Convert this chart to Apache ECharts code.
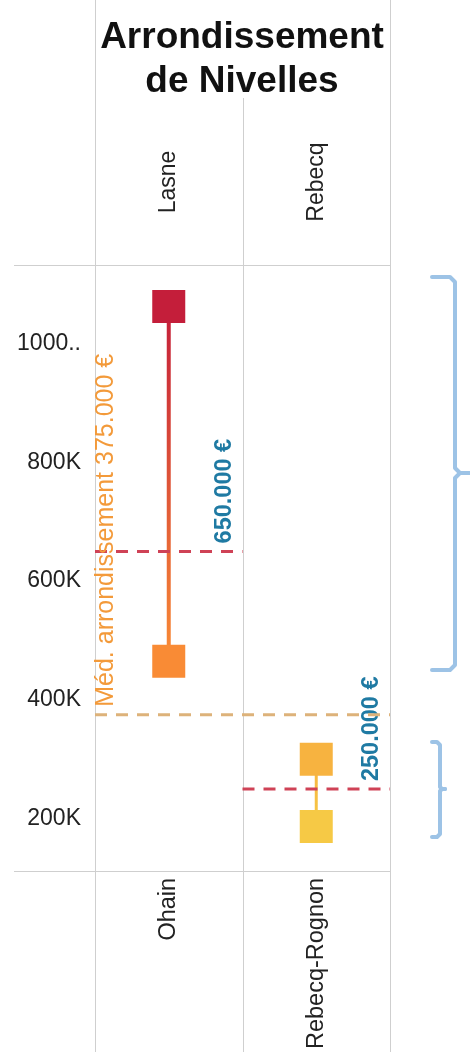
<!DOCTYPE html>
<html><head><meta charset="utf-8">
<script src="https://cdn.jsdelivr.net/npm/echarts@6/dist/echarts.min.js"></script>
<style>html,body{margin:0;padding:0;background:#fff}#c{width:470px;height:1052px}</style>
</head><body><div id="c"></div>
<script>
const titleText = 'Arrondissement\nde Nivelles';
const communes = ['Lasne', 'Rebecq'];
const sections = ['Ohain', 'Rebecq-Rognon'];
const highValues = [1062000, 300000];
const lowValues = [465000, 187000];
const highColors = ['#C41E3A', '#F7B340'];
const lowColors = ['#F98B35', '#F6C945'];
const refCats = [0, 1, 0];
const refValues = [650000, 250000, 375000];
const refSpans = [1, 1, 2];
const refLabels = ['650.000 €', '250.000 €', 'Méd. arrondissement 375.000 €'];
const refLabelSide = ['right', 'right', 'left'];
const tickValues = [200000, 400000, 600000, 800000, 1000000];
const tickLabels = ['200K', '400K', '600K', '800K', '1000..'];
const yMin = 114000, yMax = 1132000;

const FONT = '"Liberation Sans", Arial, sans-serif';
const refLineColors = ['#CF4256', '#CF4256', '#DDB27A'];
const refTextColors = ['#1F7AA3', '#1F7AA3', '#F39A3A'];
const refTextWeights = ['bold', 'bold', 'normal'];
const refTextSizes = [23.5, 23.5, 25];
const connectorWidths = [4, 3];

const chart = echarts.init(document.getElementById('c'), null, {renderer: 'canvas'});
const gray = '#cfcfcf';
const bracket = '#9DC3E6';
const bStyle = {stroke: bracket, lineWidth: 4, fill: null, lineJoin: 'round', lineCap: 'round'};

chart.setOption({
  animation: false,
  backgroundColor: '#fff',
  title: {
    text: titleText, left: 237, top: 11, textAlign: 'center',
    textStyle: {fontFamily: FONT, fontSize: 37, fontWeight: 'bold', color: '#111', lineHeight: 44}
  },
  grid: {left: 95, right: 80, top: 265, bottom: 181, containLabel: false},
  xAxis: [
    {type: 'category', data: communes, position: 'top',
     axisLine: {show: false}, axisTick: {show: false}, splitLine: {show: false},
     axisLabel: {rotate: -90, align: 'center', verticalAlign: 'middle', margin: 83,
                 fontFamily: FONT, fontSize: 23, color: '#222'}},
    {type: 'category', data: sections, position: 'bottom',
     axisLine: {show: false}, axisTick: {show: false}, splitLine: {show: false},
     axisLabel: {rotate: 90, margin: 8, fontFamily: FONT, fontSize: 23.5, color: '#222'}}
  ],
  yAxis: {
    type: 'value', min: yMin, max: yMax,
    axisLine: {show: false}, axisTick: {show: false}, splitLine: {show: false},
    axisLabel: {customValues: tickValues, margin: 14, fontFamily: FONT, fontSize: 23, color: '#222',
      formatter: v => tickLabels[tickValues.indexOf(v)] || ''}
  },
  graphic: [
    {type: 'line', shape: {x1: 95.5, y1: 0, x2: 95.5, y2: 1052}, style: {stroke: gray, lineWidth: 1}, z: 0},
    {type: 'line', shape: {x1: 243.5, y1: 98, x2: 243.5, y2: 1052}, style: {stroke: gray, lineWidth: 1}, z: 0},
    {type: 'line', shape: {x1: 390.5, y1: 0, x2: 390.5, y2: 1052}, style: {stroke: gray, lineWidth: 1}, z: 0},
    {type: 'line', shape: {x1: 14, y1: 265.5, x2: 390, y2: 265.5}, style: {stroke: gray, lineWidth: 1}, z: 0},
    {type: 'line', shape: {x1: 14, y1: 871.5, x2: 390, y2: 871.5}, style: {stroke: gray, lineWidth: 1}, z: 0},
    {type: 'polyline', shape: {points: [[432,277],[450,277],[455,282],[455,468],[460,473],[469,473]]}, style: bStyle},
    {type: 'polyline', shape: {points: [[469,473],[460,473],[455,478],[455,665],[450,670],[432,670]]}, style: bStyle},
    {type: 'polyline', shape: {points: [[432,742],[437,742],[440,745],[440,787],[442,789],[445,789]]}, style: bStyle},
    {type: 'polyline', shape: {points: [[445,789],[442,789],[440,791],[440,834],[437,837],[432,837]]}, style: bStyle}
  ],
  series: [
    {
      type: 'custom', name: 'connectors', z: 2,
      data: communes.map((c, i) => [i, highValues[i], lowValues[i]]),
      renderItem: (params, api) => {
        const i = api.value(0);
        const p1 = api.coord([i, api.value(1)]);
        const p2 = api.coord([i, api.value(2)]);
        const grad = new echarts.graphic.LinearGradient(p1[0], p1[1], p2[0], p2[1],
          [{offset: 0, color: highColors[i]}, {offset: 1, color: lowColors[i]}], true);
        return {type: 'line', shape: {x1: p1[0], y1: p1[1], x2: p2[0], y2: p2[1]},
                style: {stroke: grad, lineWidth: connectorWidths[i]}};
      }
    },
    {
      type: 'custom', name: 'references', z: 3,
      data: refValues.map((v, k) => [refCats[k], v, refSpans[k], k]),
      renderItem: (params, api) => {
        const cat = api.value(0), v = api.value(1), span = api.value(2), k = api.value(3);
        const c = api.coord([cat, v]);
        const bw = api.size([1, 0])[0];
        const x1 = c[0] - bw / 2, x2 = x1 + bw * span;
        const tx = refLabelSide[k] === 'right' ? x1 + bw - 18 : x1 + 11;
        return {type: 'group', children: [
          {type: 'line', shape: {x1: x1, y1: c[1], x2: x2, y2: c[1]},
           style: {stroke: refLineColors[k], lineWidth: 3, lineDash: [12, 9]}},
          {type: 'text', x: tx, y: c[1] - 8, rotation: Math.PI / 2,
           style: {text: refLabels[k], fill: refTextColors[k], font: refTextWeights[k] + ' ' + refTextSizes[k] + 'px ' + FONT,
                   align: 'left', verticalAlign: 'middle'}}
        ]};
      }
    },
    {
      type: 'scatter', name: 'high', symbol: 'rect', symbolSize: 33, z: 4,
      data: highValues.map((v, i) => ({value: [i, v], itemStyle: {color: highColors[i], opacity: 1}}))
    },
    {
      type: 'scatter', name: 'low', symbol: 'rect', symbolSize: 33, z: 4,
      data: lowValues.map((v, i) => ({value: [i, v], itemStyle: {color: lowColors[i], opacity: 1}}))
    }
  ]
});
</script></body></html>
